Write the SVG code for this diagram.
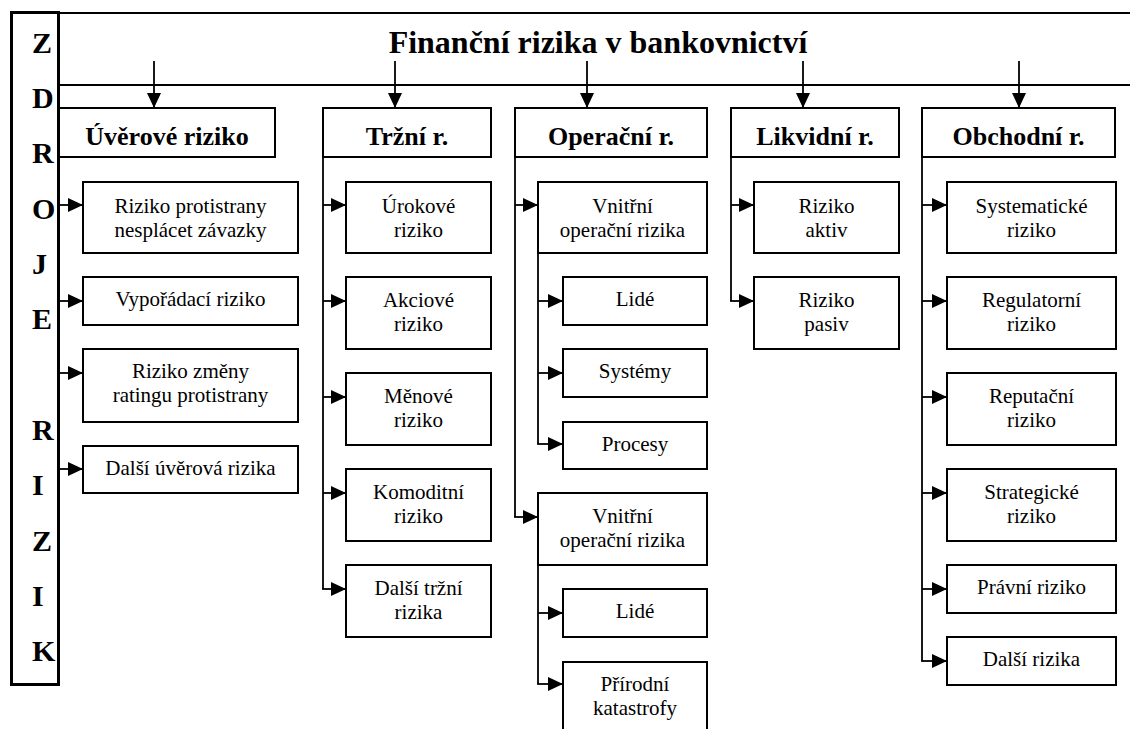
<svg xmlns="http://www.w3.org/2000/svg" width="1130" height="729" viewBox="0 0 1130 729" font-family="'Liberation Serif', 'DejaVu Serif', serif">
<style>
  text { font-family: 'Liberation Serif', 'Tinos', 'DejaVu Serif', serif; }
  .bx { fill: #fff; stroke: #000; stroke-width: 2; }
  .hd { font-weight: bold; font-size: 26px; text-anchor: middle; fill: #000; }
  .tx { font-size: 21px; text-anchor: middle; fill: #000; }
  .lt { font-weight: bold; font-size: 30px; fill: #000; }
  .ttl { font-weight: bold; font-size: 32px; text-anchor: middle; fill: #000; }
  .cn { fill: none; stroke: #000; stroke-width: 1.8; }
  .ar { fill: none; stroke: #000; stroke-width: 1.8; marker-end: url(#ah); }
  .rl { stroke: #000; stroke-width: 2; }
</style>
<defs>
  <marker id="ah" viewBox="0 0 15 14" refX="15" refY="7" markerWidth="15" markerHeight="14" markerUnits="userSpaceOnUse" orient="auto">
    <path d="M0,0 L15,7 L0,14 z" fill="#000"/>
  </marker>
</defs>
<rect width="1130" height="729" fill="#fff"/>

<g id="title">
  <line class="rl" x1="58" y1="13" x2="1130" y2="13"/>
  <line class="rl" x1="58" y1="85" x2="1130" y2="85"/>
  <text class="ttl" x="598" y="53">Finanční rizika v bankovnictví</text>
</g>

<g id="zdroje">
  <rect x="11.5" y="12.5" width="47" height="672" fill="#fff" stroke="#000" stroke-width="3"/>
  <text class="lt" x="32" y="53">Z</text>
  <text class="lt" x="32" y="108">D</text>
  <text class="lt" x="32" y="163">R</text>
  <text class="lt" x="32" y="219">O</text>
  <text class="lt" x="32" y="274">J</text>
  <text class="lt" x="32" y="329">E</text>
  <text class="lt" x="32" y="440">R</text>
  <text class="lt" x="32" y="495">I</text>
  <text class="lt" x="32" y="551">Z</text>
  <text class="lt" x="32" y="606">I</text>
  <text class="lt" x="32" y="661">K</text>
</g>

<g id="connectors">
  <line class="ar" x1="154" y1="61" x2="154" y2="108"/>
  <line class="ar" x1="395" y1="61" x2="395" y2="108"/>
  <line class="ar" x1="587" y1="61" x2="587" y2="108"/>
  <line class="ar" x1="803" y1="61" x2="803" y2="108"/>
  <line class="ar" x1="1019" y1="61" x2="1019" y2="108"/>
  <line class="ar" x1="60" y1="205" x2="83" y2="205"/>
  <line class="ar" x1="60" y1="301" x2="83" y2="301"/>
  <line class="ar" x1="60" y1="373" x2="83" y2="373"/>
  <line class="ar" x1="60" y1="469" x2="83" y2="469"/>
  <line class="cn" x1="323" y1="157" x2="323" y2="589"/>
  <line class="ar" x1="323" y1="205" x2="346" y2="205"/>
  <line class="ar" x1="323" y1="301" x2="346" y2="301"/>
  <line class="ar" x1="323" y1="397" x2="346" y2="397"/>
  <line class="ar" x1="323" y1="493" x2="346" y2="493"/>
  <line class="ar" x1="322.1" y1="589" x2="346" y2="589"/>
  <line class="cn" x1="515" y1="157" x2="515" y2="517"/>
  <line class="ar" x1="515" y1="205" x2="538" y2="205"/>
  <line class="ar" x1="514.1" y1="517" x2="538" y2="517"/>
  <line class="cn" x1="538" y1="253" x2="538" y2="444"/>
  <line class="ar" x1="538" y1="301" x2="563" y2="301"/>
  <line class="ar" x1="538" y1="373" x2="563" y2="373"/>
  <line class="ar" x1="537.1" y1="444" x2="563" y2="444"/>
  <line class="cn" x1="538" y1="565" x2="538" y2="684"/>
  <line class="ar" x1="538" y1="613" x2="563" y2="613"/>
  <line class="ar" x1="537.1" y1="684" x2="563" y2="684"/>
  <line class="cn" x1="731" y1="157" x2="731" y2="301"/>
  <line class="ar" x1="731" y1="205" x2="754" y2="205"/>
  <line class="ar" x1="730.1" y1="301" x2="754" y2="301"/>
  <line class="cn" x1="922" y1="157" x2="922" y2="661"/>
  <line class="ar" x1="922" y1="205" x2="947" y2="205"/>
  <line class="ar" x1="922" y1="301" x2="947" y2="301"/>
  <line class="ar" x1="922" y1="397" x2="947" y2="397"/>
  <line class="ar" x1="922" y1="493" x2="947" y2="493"/>
  <line class="ar" x1="922" y1="589" x2="947" y2="589"/>
  <line class="ar" x1="921.1" y1="661" x2="947" y2="661"/>
</g>

<g id="n-uverove"><rect class="bx" x="59" y="108" width="216" height="49"/><text class="hd" x="167" y="145">Úvěrové riziko</text></g>
<g id="n-trzni"><rect class="bx" x="323" y="108" width="168" height="49"/><text class="hd" x="407" y="145">Tržní r.</text></g>
<g id="n-operacni"><rect class="bx" x="515" y="108" width="192" height="49"/><text class="hd" x="611" y="145">Operační r.</text></g>
<g id="n-likvidni"><rect class="bx" x="731" y="108" width="168" height="49"/><text class="hd" x="815" y="145">Likvidní r.</text></g>
<g id="n-obchodni"><rect class="bx" x="922" y="108" width="193" height="49"/><text class="hd" x="1018.5" y="145">Obchodní r.</text></g>

<g id="n-protistrany"><rect class="bx" x="83" y="182" width="215" height="71"/><text class="tx" x="190.5" y="213">Riziko protistrany</text><text class="tx" x="190.5" y="237">nesplácet závazky</text></g>
<g id="n-vyporadaci"><rect class="bx" x="83" y="277" width="215" height="48"/><text class="tx" x="190.5" y="306">Vypořádací riziko</text></g>
<g id="n-ratingu"><rect class="bx" x="83" y="349" width="215" height="73"/><text class="tx" x="190.5" y="378">Riziko změny</text><text class="tx" x="190.5" y="402">ratingu protistrany</text></g>
<g id="n-dalsi-uverova"><rect class="bx" x="83" y="446" width="215" height="47"/><text class="tx" x="190.5" y="475">Další úvěrová rizika</text></g>

<g id="n-urokove"><rect class="bx" x="346" y="182" width="145" height="71"/><text class="tx" x="418.5" y="213">Úrokové</text><text class="tx" x="418.5" y="237">riziko</text></g>
<g id="n-akciove"><rect class="bx" x="346" y="277" width="145" height="72"/><text class="tx" x="418.5" y="307">Akciové</text><text class="tx" x="418.5" y="331">riziko</text></g>
<g id="n-menove"><rect class="bx" x="346" y="373" width="145" height="72"/><text class="tx" x="418.5" y="403">Měnové</text><text class="tx" x="418.5" y="427">riziko</text></g>
<g id="n-komoditni"><rect class="bx" x="346" y="469" width="145" height="72"/><text class="tx" x="418.5" y="499">Komoditní</text><text class="tx" x="418.5" y="523">riziko</text></g>
<g id="n-dalsi-trzni"><rect class="bx" x="346" y="565" width="145" height="72"/><text class="tx" x="418.5" y="595">Další tržní</text><text class="tx" x="418.5" y="619">rizika</text></g>

<g id="n-vnitrni1"><rect class="bx" x="538" y="182" width="169" height="71"/><text class="tx" x="622.5" y="213">Vnitřní</text><text class="tx" x="622.5" y="237">operační rizika</text></g>
<g id="n-lide1"><rect class="bx" x="563" y="277" width="144" height="48"/><text class="tx" x="635" y="306">Lidé</text></g>
<g id="n-systemy"><rect class="bx" x="563" y="349" width="144" height="48"/><text class="tx" x="635" y="378">Systémy</text></g>
<g id="n-procesy"><rect class="bx" x="563" y="422" width="144" height="47"/><text class="tx" x="635" y="451">Procesy</text></g>
<g id="n-vnitrni2"><rect class="bx" x="538" y="493" width="169" height="72"/><text class="tx" x="622.5" y="523">Vnitřní</text><text class="tx" x="622.5" y="547">operační rizika</text></g>
<g id="n-lide2"><rect class="bx" x="563" y="589" width="144" height="48"/><text class="tx" x="635" y="618">Lidé</text></g>
<g id="n-prirodni"><rect class="bx" x="563" y="662" width="144" height="72"/><text class="tx" x="635" y="691">Přírodní</text><text class="tx" x="635" y="715">katastrofy</text></g>

<g id="n-aktiv"><rect class="bx" x="754" y="182" width="145" height="71"/><text class="tx" x="826.5" y="213">Riziko</text><text class="tx" x="826.5" y="237">aktiv</text></g>
<g id="n-pasiv"><rect class="bx" x="754" y="277" width="145" height="72"/><text class="tx" x="826.5" y="307">Riziko</text><text class="tx" x="826.5" y="331">pasiv</text></g>

<g id="n-systematicke"><rect class="bx" x="947" y="182" width="169" height="71"/><text class="tx" x="1031.5" y="213">Systematické</text><text class="tx" x="1031.5" y="237">riziko</text></g>
<g id="n-regulatorni"><rect class="bx" x="947" y="277" width="169" height="72"/><text class="tx" x="1031.5" y="307">Regulatorní</text><text class="tx" x="1031.5" y="331">riziko</text></g>
<g id="n-reputacni"><rect class="bx" x="947" y="373" width="169" height="72"/><text class="tx" x="1031.5" y="403">Reputační</text><text class="tx" x="1031.5" y="427">riziko</text></g>
<g id="n-strategicke"><rect class="bx" x="947" y="469" width="169" height="72"/><text class="tx" x="1031.5" y="499">Strategické</text><text class="tx" x="1031.5" y="523">riziko</text></g>
<g id="n-pravni"><rect class="bx" x="947" y="565" width="169" height="48"/><text class="tx" x="1031.5" y="594">Právní riziko</text></g>
<g id="n-dalsi-rizika"><rect class="bx" x="947" y="637" width="169" height="48"/><text class="tx" x="1031.5" y="666">Další rizika</text></g>
</svg>
